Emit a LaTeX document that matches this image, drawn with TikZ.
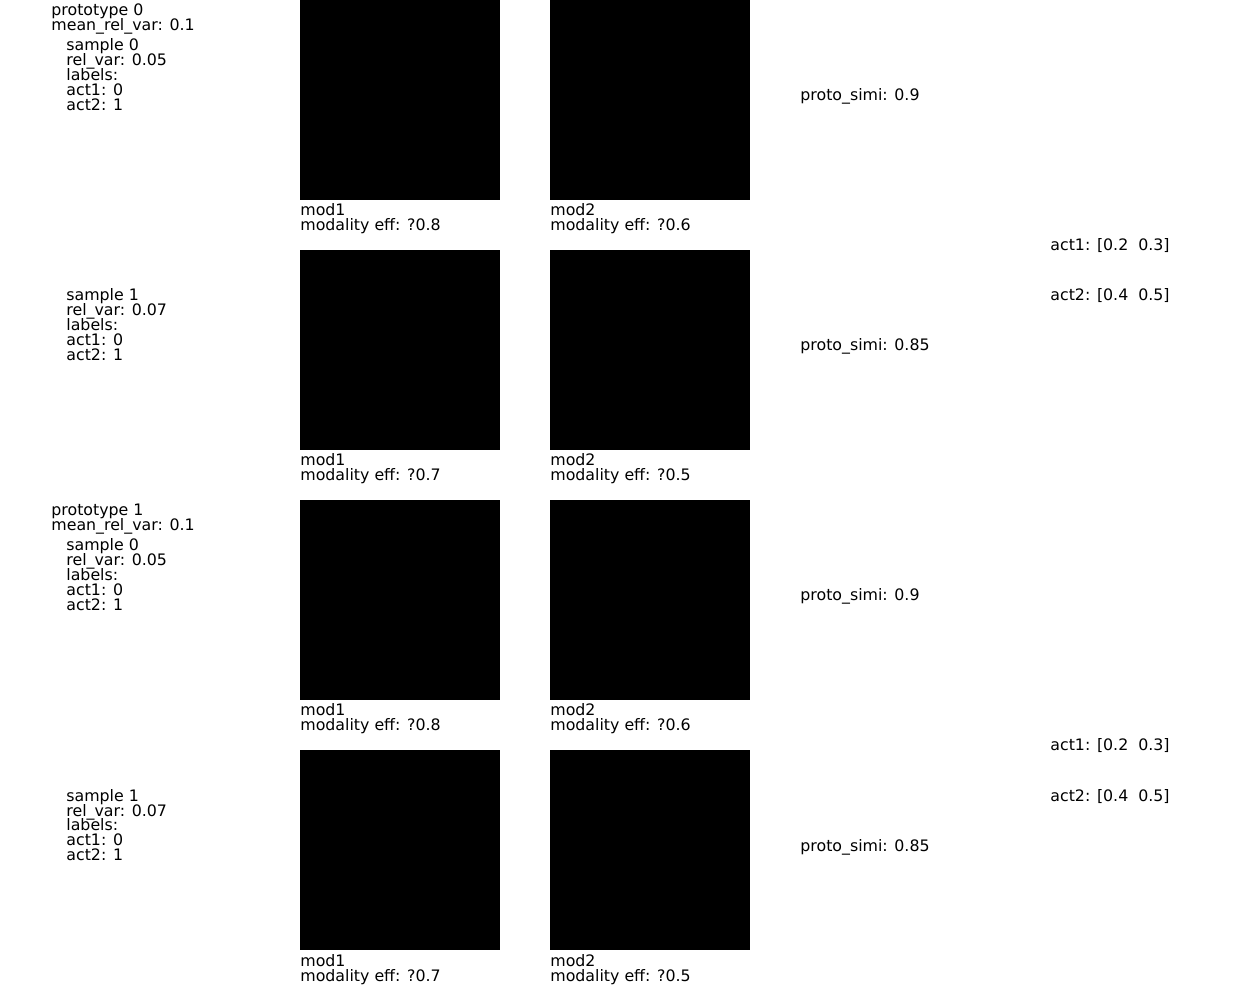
\documentclass[tikz,border=0pt]{standalone}
\usepackage{fontspec}
\setmainfont{DejaVu Sans}
\tikzset{
  txt/.style={anchor=base west,inner sep=0pt,font=\fontsize{7.9}{9}\selectfont},
  img/.style={fill=black}
}
\begin{document}
\begin{tikzpicture}[x=0.5pt,y=-0.5pt]
\useasboundingbox (0,0) rectangle (1250,1000);
\foreach \p in {0,1}
{
	\node[txt] (proto\p) at (51,500*\p+16) {prototype \p};
	\node[txt] (mrv\p) at (51,500*\p+31) {mean\_rel\_var: 0.1};
	\node[txt] (actA\p) at (1050,500*\p+251) {act1: [0.2~~0.3]};
	\node[txt] (actB\p) at (1050,500*\p+301) {act2: [0.4~~0.5]};
	\foreach \s/\rv/\ea/\eb/\ps in {0/0.05/0.8/0.6/0.9, 1/0.07/0.7/0.5/0.85}
	{
		\node[txt] (smp\p\s) at (66,500*\p+250*\s+51) {sample \s};
		\node[txt] (rv\p\s) at (66,500*\p+250*\s+66) {rel\_var: \rv};
		\node[txt] (lab\p\s) at (66,500*\p+250*\s+81) {labels:};
		\node[txt] (la\p\s) at (66,500*\p+250*\s+96) {act1: 0};
		\node[txt] (lb\p\s) at (66,500*\p+250*\s+111) {act2: 1};
		\fill[img] (300,500*\p+250*\s) rectangle (500,500*\p+250*\s+200);
		\fill[img] (550,500*\p+250*\s) rectangle (750,500*\p+250*\s+200);
		\node[txt] (mA\p\s) at (300,500*\p+250*\s+216) {mod1};
		\node[txt] (eA\p\s) at (300,500*\p+250*\s+231) {modality eff: ?\ea};
		\node[txt] (mB\p\s) at (550,500*\p+250*\s+216) {mod2};
		\node[txt] (eB\p\s) at (550,500*\p+250*\s+231) {modality eff: ?\eb};
		\node[txt] (sim\p\s) at (800,500*\p+250*\s+101) {proto\_simi: \ps};
	}
}
\end{tikzpicture}
\end{document}
